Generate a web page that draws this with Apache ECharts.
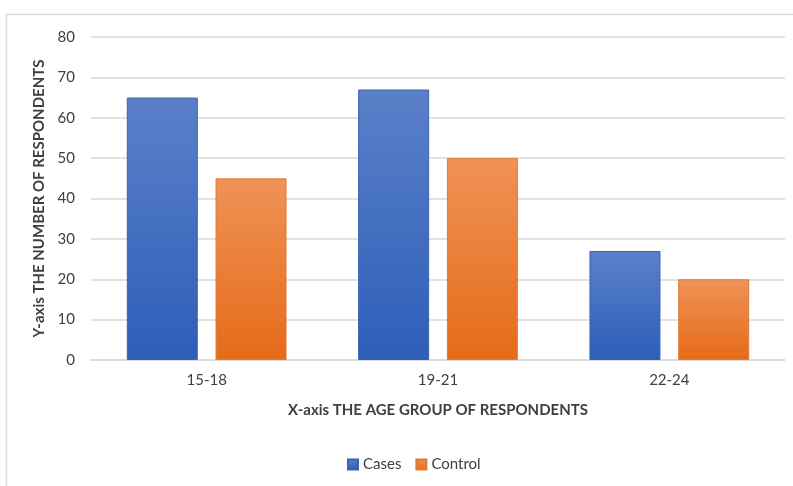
<!DOCTYPE html>
<html>
<head>
<meta charset="utf-8">
<script src="https://cdn.jsdelivr.net/npm/echarts@6/dist/echarts.min.js"></script>
<style>
html,body{margin:0;padding:0;background:#fff;}
#chart{width:793px;height:486px;}
</style>
</head>
<body>
<div id="chart"></div>
<script>
const categories = ['15-18', '19-21', '22-24'];
const casesValues = [65, 67, 27];
const controlValues = [45, 50, 20];
const yTicks = [0, 10, 20, 30, 40, 50, 60, 70, 80];

const FONT = 'Lato, "Open Sans", sans-serif';
const chart = echarts.init(document.getElementById('chart'));

function grad(top, bottom) {
  return new echarts.graphic.LinearGradient(0, 0, 0, 1, [
    { offset: 0, color: top },
    { offset: 1, color: bottom }
  ]);
}

chart.setOption({
  animation: false,
  backgroundColor: '#fff',
  textStyle: { fontFamily: FONT },
  graphic: [{
    type: 'polyline',
    shape: { points: [[6.5, 486], [6.5, 14.5], [793, 14.5]] },
    style: { stroke: '#d9dde2', lineWidth: 1.5, fill: null },
    silent: true
  }],
  grid: { left: 91, right: 8, top: 37, bottom: 126 },
  legend: {
    bottom: 9,
    left: 342,
    itemWidth: 10,
    itemHeight: 10,
    itemGap: 14,
    icon: 'rect',
    textStyle: { fontSize: 15, color: '#404040', fontFamily: FONT },
    data: ['Cases', 'Control']
  },
  xAxis: {
    type: 'category',
    data: categories,
    name: 'X-axis THE AGE GROUP OF RESPONDENTS',
    nameLocation: 'middle',
    nameGap: 43,
    nameTextStyle: { fontSize: 15, fontWeight: 'bold', color: '#404040', fontFamily: FONT },
    axisLine: { lineStyle: { color: '#d9d9d9', width: 1.5 } },
    axisTick: { show: false },
    axisLabel: { fontSize: 15, color: '#404040', margin: 13 }
  },
  yAxis: {
    type: 'value',
    min: yTicks[0],
    max: yTicks[yTicks.length - 1],
    interval: 10,
    name: 'Y-axis THE NUMBER OF RESPONDENTS',
    nameLocation: 'middle',
    nameGap: 36,
    nameRotate: 90,
    nameTextStyle: { fontSize: 15, fontWeight: 'bold', color: '#404040', fontFamily: FONT },
    axisLine: { show: false },
    axisTick: { show: false },
    axisLabel: { fontSize: 15, color: '#404040', margin: 16 },
    splitLine: { lineStyle: { color: '#d9d9d9', width: 1.5 } }
  },
  series: [
    {
      name: 'Cases',
      type: 'bar',
      data: casesValues,
      barWidth: 71,
      barGap: '25%',
      itemStyle: {
        color: grad('#5b80c9', '#2d5eb9'),
        borderColor: '#3a63b0',
        borderWidth: 1
      }
    },
    {
      name: 'Control',
      type: 'bar',
      data: controlValues,
      barWidth: 71,
      itemStyle: {
        color: grad('#f09257', '#e56b18'),
        borderColor: '#e07a3a',
        borderWidth: 1
      }
    }
  ]
});
</script>
</body>
</html>
